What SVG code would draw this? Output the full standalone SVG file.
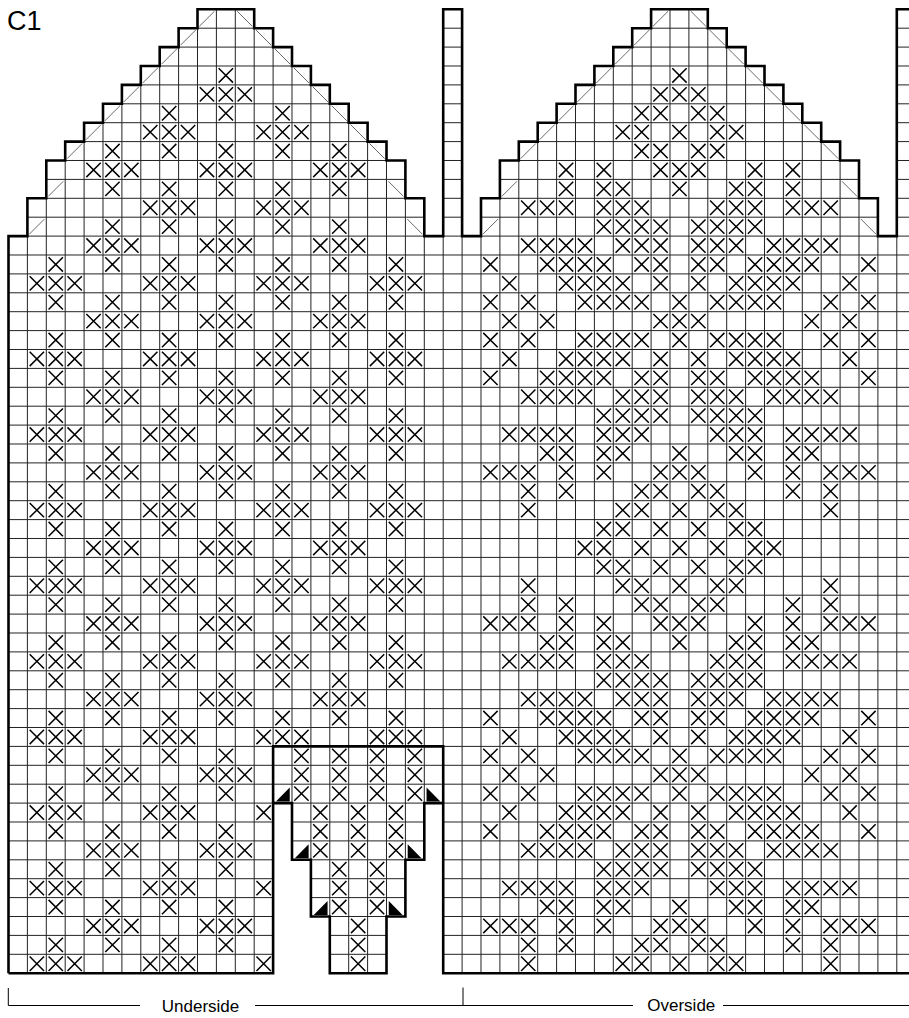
<svg xmlns="http://www.w3.org/2000/svg" xmlns:xlink="http://www.w3.org/1999/xlink" width="909" height="1018" viewBox="0 0 909 1018">
<style>
.g{fill:none;stroke:#222;stroke-width:1;vector-effect:non-scaling-stroke}
.o{fill:none;stroke:#000;stroke-width:2.6;stroke-linejoin:miter;vector-effect:non-scaling-stroke}
.x{fill:none;stroke:#000;stroke-width:1.5;vector-effect:non-scaling-stroke}
.d{fill:none;stroke:#444;stroke-width:0.8;vector-effect:non-scaling-stroke}
.tri{fill:#000}
.lbl{fill:none;stroke:#000;stroke-width:1}
.t{font-family:"Liberation Sans",Arial,sans-serif;fill:#000}
</style>
<defs>
<clipPath id="shape" clipPathUnits="userSpaceOnUse">
<path d="M0 51 V12 H1 V10 H2 V8 H3 V7 H4 V6 H5 V5 H6 V4 H7 V3 H8 V2 H9 V1 H10 V0 H13 V1 H14 V2 H15 V3 H16 V4 H17 V5 H18 V6 H19 V7 H20 V8 H21 V10 H22 V12 H23 V0 H24 V12 H25 V10 H26 V8 H27 V7 H28 V6 H29 V5 H30 V4 H31 V3 H32 V2 H33 V1 H34 V0 H37 V1 H38 V2 H39 V3 H40 V4 H41 V5 H42 V6 H43 V7 H44 V8 H45 V10 H46 V12 H47 V0 H48.5 V51 H23 V42 H22 V45 H21 V48 H20 V51 H17 V48 H16 V45 H15 V42 H14 V51 Z"/>
</clipPath>
<path id="x" class="x" d="M.12 .12 L.88 .88 M.88 .12 L.12 .88"/>
<g id="x3"><use href="#x"/><use href="#x" x="1"/><use href="#x" x="2"/></g>
<g id="LA"><use href="#x3" x="1"/><use href="#x3" x="7"/><use href="#x3" x="13"/><use href="#x3" x="19"/></g>
<g id="LB"><use href="#x" x="2"/><use href="#x" x="5"/><use href="#x" x="8"/><use href="#x" x="11"/><use href="#x" x="14"/><use href="#x" x="17"/><use href="#x" x="20"/></g>
<g id="LC"><use href="#x3" x="4"/><use href="#x3" x="10"/><use href="#x3" x="16"/></g>
<g id="LA2"><use href="#x3" x="1"/><use href="#x3" x="7"/><use href="#x" x="13"/></g>
<g id="LB2"><use href="#x" x="2"/><use href="#x" x="5"/><use href="#x" x="8"/><use href="#x" x="11"/></g>
<g id="LC2"><use href="#x3" x="4"/><use href="#x3" x="10"/></g>
<g id="T3"><use href="#x" x="11"/></g>
<g id="T4"><use href="#x3" x="10"/></g>
<g id="T5"><use href="#x" x="8"/><use href="#x" x="11"/><use href="#x" x="14"/></g>
<g id="T6"><use href="#x3" x="7"/><use href="#x3" x="13"/></g>
<g id="T7"><use href="#x" x="5"/><use href="#x" x="8"/><use href="#x" x="11"/><use href="#x" x="14"/><use href="#x" x="17"/></g>
<g id="G1"><use href="#x" x="15"/><use href="#x" x="17"/><use href="#x" x="19"/><use href="#x" x="21"/></g>
<g id="G2"><use href="#x" x="16"/><use href="#x" x="18"/><use href="#x" x="20"/></g>
<g id="G3"><use href="#x" x="17"/><use href="#x" x="19"/></g>
<g id="G4"><use href="#x" x="18"/></g>
<g id="R3"><use href="#x" x="35"/></g>
<g id="R4"><use href="#x3" x="34"/></g>
<g id="R5"><use href="#x" x="33"/><use href="#x" x="34"/><use href="#x" x="36"/><use href="#x" x="37"/></g>
<g id="R6"><use href="#x" x="32"/><use href="#x" x="33"/><use href="#x" x="35"/><use href="#x" x="37"/><use href="#x" x="38"/></g>
<g id="R8"><use href="#x" x="29"/><use href="#x" x="31"/><use href="#x3" x="34"/><use href="#x" x="39"/><use href="#x" x="41"/></g>
<g id="R9"><use href="#x" x="29"/><use href="#x" x="31"/><use href="#x" x="32"/><use href="#x" x="35"/><use href="#x" x="38"/><use href="#x" x="39"/><use href="#x" x="41"/></g>
<g id="R10"><use href="#x3" x="27"/><use href="#x3" x="31"/><use href="#x3" x="37"/><use href="#x3" x="41"/></g>
<g id="R11"><use href="#x3" x="31"/><use href="#x" x="34"/><use href="#x" x="36"/><use href="#x3" x="37"/></g>
<g id="R12"><use href="#x3" x="27"/><use href="#x" x="30"/><use href="#x3" x="32"/><use href="#x3" x="36"/><use href="#x" x="40"/><use href="#x3" x="41"/></g>
<g id="R13"><use href="#x" x="25"/><use href="#x3" x="28"/><use href="#x" x="31"/><use href="#x" x="33"/><use href="#x" x="34"/><use href="#x" x="36"/><use href="#x" x="37"/><use href="#x" x="39"/><use href="#x3" x="40"/><use href="#x" x="45"/></g>
<g id="R14"><use href="#x" x="26"/><use href="#x3" x="29"/><use href="#x" x="32"/><use href="#x" x="34"/><use href="#x" x="36"/><use href="#x" x="38"/><use href="#x3" x="39"/><use href="#x" x="44"/></g>
<g id="R15"><use href="#x" x="25"/><use href="#x" x="27"/><use href="#x3" x="30"/><use href="#x" x="33"/><use href="#x" x="35"/><use href="#x" x="37"/><use href="#x3" x="38"/><use href="#x" x="43"/><use href="#x" x="45"/></g>
<g id="R16"><use href="#x" x="26"/><use href="#x" x="28"/><use href="#x3" x="34"/><use href="#x" x="42"/><use href="#x" x="44"/></g>
<g id="R22"><use href="#x3" x="26"/><use href="#x" x="29"/><use href="#x3" x="31"/><use href="#x3" x="37"/><use href="#x" x="41"/><use href="#x3" x="42"/></g>
<g id="R23"><use href="#x" x="28"/><use href="#x" x="29"/><use href="#x" x="31"/><use href="#x" x="32"/><use href="#x" x="35"/><use href="#x" x="38"/><use href="#x" x="39"/><use href="#x" x="41"/><use href="#x" x="42"/></g>
<g id="R24"><use href="#x3" x="25"/><use href="#x" x="29"/><use href="#x" x="31"/><use href="#x3" x="34"/><use href="#x" x="39"/><use href="#x" x="41"/><use href="#x3" x="43"/></g>
<g id="R25"><use href="#x" x="27"/><use href="#x" x="29"/><use href="#x" x="33"/><use href="#x" x="34"/><use href="#x" x="36"/><use href="#x" x="37"/><use href="#x" x="41"/><use href="#x" x="43"/></g>
<g id="R26"><use href="#x" x="27"/><use href="#x" x="32"/><use href="#x" x="33"/><use href="#x" x="35"/><use href="#x" x="37"/><use href="#x" x="38"/><use href="#x" x="43"/></g>
<g id="R27"><use href="#x" x="31"/><use href="#x" x="32"/><use href="#x" x="34"/><use href="#x" x="36"/><use href="#x" x="38"/><use href="#x" x="39"/></g>
<g id="R28"><use href="#x" x="30"/><use href="#x" x="31"/><use href="#x" x="33"/><use href="#x" x="35"/><use href="#x" x="37"/><use href="#x" x="39"/><use href="#x" x="40"/></g>
<path id="dl" class="d" d="M.1 .9 L.9 .1"/>
<path id="dr" class="d" d="M.1 .1 L.9 .9"/>
<g id="decL"><use href="#dl" x="10" y="0"/><use href="#dl" x="9" y="1"/><use href="#dl" x="8" y="2"/><use href="#dl" x="7" y="3"/><use href="#dl" x="6" y="4"/><use href="#dl" x="5" y="5"/><use href="#dl" x="4" y="6"/><use href="#dl" x="3" y="7"/><use href="#dl" x="2" y="9"/><use href="#dl" x="1" y="11"/>
<use href="#dr" x="12" y="0"/><use href="#dr" x="13" y="1"/><use href="#dr" x="14" y="2"/><use href="#dr" x="15" y="3"/><use href="#dr" x="16" y="4"/><use href="#dr" x="17" y="5"/><use href="#dr" x="18" y="6"/><use href="#dr" x="19" y="7"/><use href="#dr" x="20" y="9"/><use href="#dr" x="21" y="11"/></g>
<path id="tl" class="tri" d="M.15 .92 H.88 V.18 Z"/>
<path id="tr" class="tri" d="M.12 .18 V.92 H.85 Z"/>
</defs>

<text class="t" x="7" y="30" font-size="27">C1</text>

<g transform="translate(8.5 9.3) scale(18.9)">
  <g id="grid" clip-path="url(#shape)">
    <path class="g" d="M0 0H48.5M0 1H48.5M0 2H48.5M0 3H48.5M0 4H48.5M0 5H48.5M0 6H48.5M0 7H48.5M0 8H48.5M0 9H48.5M0 10H48.5M0 11H48.5M0 12H48.5M0 13H48.5M0 14H48.5M0 15H48.5M0 16H48.5M0 17H48.5M0 18H48.5M0 19H48.5M0 20H48.5M0 21H48.5M0 22H48.5M0 23H48.5M0 24H48.5M0 25H48.5M0 26H48.5M0 27H48.5M0 28H48.5M0 29H48.5M0 30H48.5M0 31H48.5M0 32H48.5M0 33H48.5M0 34H48.5M0 35H48.5M0 36H48.5M0 37H48.5M0 38H48.5M0 39H48.5M0 40H48.5M0 41H48.5M0 42H48.5M0 43H48.5M0 44H48.5M0 45H48.5M0 46H48.5M0 47H48.5M0 48H48.5M0 49H48.5M0 50H48.5M0 51H48.5
M0 0V51M1 0V51M2 0V51M3 0V51M4 0V51M5 0V51M6 0V51M7 0V51M8 0V51M9 0V51M10 0V51M11 0V51M12 0V51M13 0V51M14 0V51M15 0V51M16 0V51M17 0V51M18 0V51M19 0V51M20 0V51M21 0V51M22 0V51M23 0V51M24 0V51M25 0V51M26 0V51M27 0V51M28 0V51M29 0V51M30 0V51M31 0V51M32 0V51M33 0V51M34 0V51M35 0V51M36 0V51M37 0V51M38 0V51M39 0V51M40 0V51M41 0V51M42 0V51M43 0V51M44 0V51M45 0V51M46 0V51M47 0V51M48 0V51"/>
  </g>

  <g id="left-mitten">
    <use href="#decL"/>
    <use href="#T3" y="3"/><use href="#T4" y="4"/><use href="#T5" y="5"/><use href="#T6" y="6"/><use href="#T7" y="7"/>
    <use href="#LC" y="8"/><use href="#T7" y="9"/><use href="#T6" y="10"/><use href="#T7" y="11"/>
    <use href="#LC" y="12"/><use href="#LB" y="13"/><use href="#LA" y="14"/><use href="#LB" y="15"/>
    <use href="#LC" y="16"/><use href="#LB" y="17"/><use href="#LA" y="18"/><use href="#LB" y="19"/>
    <use href="#LC" y="20"/><use href="#LB" y="21"/><use href="#LA" y="22"/><use href="#LB" y="23"/>
    <use href="#LC" y="24"/><use href="#LB" y="25"/><use href="#LA" y="26"/><use href="#LB" y="27"/>
    <use href="#LC" y="28"/><use href="#LB" y="29"/><use href="#LA" y="30"/><use href="#LB" y="31"/>
    <use href="#LC" y="32"/><use href="#LB" y="33"/><use href="#LA" y="34"/><use href="#LB" y="35"/>
    <use href="#LC" y="36"/><use href="#LB" y="37"/><use href="#LA" y="38"/><use href="#LB2" y="39"/>
    <use href="#LC2" y="40"/><use href="#LB2" y="41"/><use href="#LA2" y="42"/><use href="#LB2" y="43"/>
    <use href="#LC2" y="44"/><use href="#LB2" y="45"/><use href="#LA2" y="46"/><use href="#LB2" y="47"/>
    <use href="#LC2" y="48"/><use href="#LB2" y="49"/><use href="#LA2" y="50"/>
  </g>

  <g id="thumb-gusset">
    <use href="#G1" y="39"/><use href="#G1" y="40"/><use href="#G1" y="41"/>
    <use href="#G2" y="42"/><use href="#G2" y="43"/><use href="#G2" y="44"/>
    <use href="#G3" y="45"/><use href="#G3" y="46"/><use href="#G3" y="47"/>
    <use href="#G4" y="48"/><use href="#G4" y="49"/><use href="#G4" y="50"/>
    <use href="#tl" x="14" y="41"/><use href="#tr" x="22" y="41"/>
    <use href="#tl" x="15" y="44"/><use href="#tr" x="21" y="44"/>
    <use href="#tl" x="16" y="47"/><use href="#tr" x="20" y="47"/>
  </g>

  <g id="right-mitten">
    <use href="#decL" x="24"/>
    <use href="#R3" y="3"/><use href="#R4" y="4"/><use href="#R5" y="5"/><use href="#R6" y="6"/><use href="#R5" y="7"/>
    <use href="#R8" y="8"/><use href="#R9" y="9"/><use href="#R10" y="10"/><use href="#R11" y="11"/>
    <use href="#R12" y="12"/><use href="#R13" y="13"/><use href="#R14" y="14"/><use href="#R15" y="15"/>
    <use href="#R16" y="16"/><use href="#R15" y="17"/><use href="#R14" y="18"/><use href="#R13" y="19"/>
    <use href="#R12" y="20"/><use href="#R11" y="21"/><use href="#R22" y="22"/><use href="#R23" y="23"/>
    <use href="#R24" y="24"/><use href="#R25" y="25"/><use href="#R26" y="26"/><use href="#R27" y="27"/>
    <use href="#R28" y="28"/><use href="#R27" y="29"/><use href="#R26" y="30"/><use href="#R25" y="31"/>
    <use href="#R24" y="32"/><use href="#R23" y="33"/><use href="#R22" y="34"/><use href="#R11" y="35"/>
    <use href="#R12" y="36"/><use href="#R13" y="37"/><use href="#R14" y="38"/><use href="#R15" y="39"/>
    <use href="#R16" y="40"/><use href="#R15" y="41"/><use href="#R14" y="42"/><use href="#R13" y="43"/>
    <use href="#R12" y="44"/><use href="#R11" y="45"/><use href="#R22" y="46"/><use href="#R23" y="47"/>
    <use href="#R24" y="48"/><use href="#R25" y="49"/><use href="#R26" y="50"/>
  </g>

  <g id="outline">
    <path class="o" d="M0 51 V12 H1 V10 H2 V8 H3 V7 H4 V6 H5 V5 H6 V4 H7 V3 H8 V2 H9 V1 H10 V0 H13 V1 H14 V2 H15 V3 H16 V4 H17 V5 H18 V6 H19 V7 H20 V8 H21 V10 H22 V12 H23 V0 H24 V12 H25 V10 H26 V8 H27 V7 H28 V6 H29 V5 H30 V4 H31 V3 H32 V2 H33 V1 H34 V0 H37 V1 H38 V2 H39 V3 H40 V4 H41 V5 H42 V6 H43 V7 H44 V8 H45 V10 H46 V12 H47 V0 H48.5"/>
    <path class="o" d="M0 51 H14 V39 H23 V51 H48.5"/>
    <path class="o" d="M14 42 H15 V45 H16 V48 H17 V51 H20 V48 H21 V45 H22 V42 H23"/>
  </g>
</g>

<g id="labels">
  <path class="lbl" d="M8.3 988 V1005.5 H140 M255 1005.5 H633 M463 987.5 V1005.5 M723 1005.5 H909"/>
  <text class="t" x="200.5" y="1011.5" font-size="17" text-anchor="middle">Underside</text>
  <text class="t" x="681.3" y="1011" font-size="17" text-anchor="middle">Overside</text>
</g>
</svg>
